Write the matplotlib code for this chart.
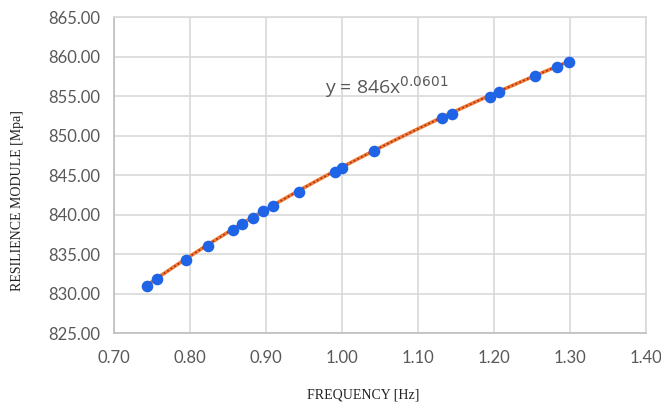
import numpy as np
import matplotlib.pyplot as plt

# data
frequency = [0.743, 0.757, 0.795, 0.824, 0.856, 0.869, 0.883, 0.896, 0.909, 0.944,
             0.991, 1.000, 1.042, 1.132, 1.144, 1.194, 1.206, 1.254, 1.283, 1.299]
modulus = [830.9, 831.8, 834.3, 836.0, 838.0, 838.8, 839.5, 840.4, 841.1, 842.9,
           845.4, 845.9, 848.0, 852.2, 852.7, 854.9, 855.5, 857.5, 858.7, 859.3]
coef_a = 846
coef_b = 0.0601

xticks = [0.70, 0.80, 0.90, 1.00, 1.10, 1.20, 1.30, 1.40]
yticks = [825, 830, 835, 840, 845, 850, 855, 860, 865]

fig = plt.figure(figsize=(6.61, 4.04), dpi=100)
ax = fig.add_axes([0.1725, 0.1757, 0.805, 0.782])

# power trendline across the data range
xs = np.linspace(min(frequency), max(frequency), 200)
ys = coef_a * xs ** coef_b
ax.plot(xs, ys, color='#ED7D31', lw=2.6, zorder=2, solid_capstyle='butt')
ax.plot(xs, ys, color='#B22222', lw=1.2, ls=(0, (1, 1.5)), zorder=3)

ax.scatter(frequency, modulus, s=70, color='#1F63E6', zorder=4, linewidths=0)

ax.text(0.978, 856.2, r'y = 846x$^{0.0601}$', fontsize=14, color='#595959',
        family='Open Sans', va='center', ha='left')

ax.set_xlim(0.70, 1.40)
ax.set_ylim(825, 865)
ax.set_xticks(xticks)
ax.set_yticks(yticks)
ax.set_xticklabels(['%.2f' % t for t in xticks])
ax.set_yticklabels(['%.2f' % t for t in yticks])
ax.grid(True, color='#D9D9D9', lw=1.2)
ax.set_axisbelow(True)
for s in ax.spines.values():
    s.set_color('#D9D9D9')
    s.set_linewidth(1.2)
ax.spines['bottom'].set_color('#BFBFBF')
ax.spines['left'].set_color('#BFBFBF')
ax.tick_params(length=0, labelsize=12, labelcolor='#595959')
ax.tick_params(axis='x', pad=12)
ax.tick_params(axis='y', pad=10)
for lab in ax.get_xticklabels() + ax.get_yticklabels():
    lab.set_family('Lato')

ax.set_xlabel('FREQUENCY [Hz]', family='Liberation Serif', fontsize=10, color='#222222')
ax.xaxis.set_label_coords(0.468, -0.175)
ax.set_ylabel('RESILIENCE MODULE [Mpa]', family='Liberation Serif', fontsize=10, color='#222222')
ax.yaxis.set_label_coords(-0.17, 0.42)

fig.savefig('out.png', dpi=100)
